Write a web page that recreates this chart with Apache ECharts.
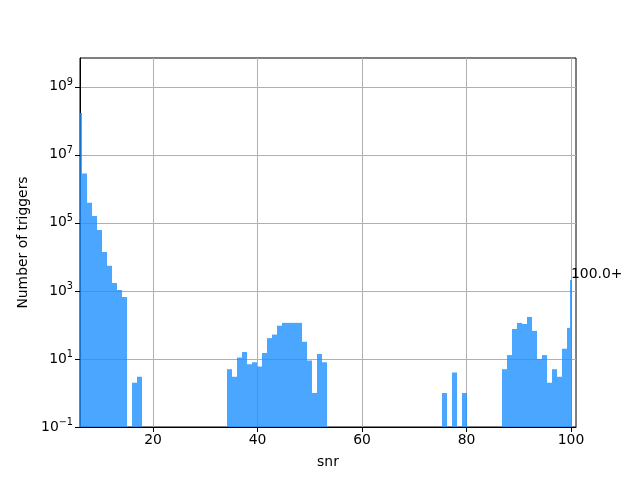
<!DOCTYPE html>
<html>
<head>
<meta charset="utf-8">
<script src="https://cdn.jsdelivr.net/npm/echarts@6/dist/echarts.min.js"></script>
<style>html,body{margin:0;padding:0;background:#fff}#c{width:640px;height:480px}</style>
</head>
<body>
<div id="c"></div>
<script>
// Histogram data
var binStart = 6.35;
var binWidth = 0.957;
var counts = [
  2800000, 390000, 160000, 62000, 14000, 5500, 1700, 1070, 660, 0,
  2, 3, 0, 0, 0, 0, 0, 0, 0, 0,
  0, 0, 0, 0, 0, 0, 0, 0, 0, 5,
  3, 11, 16, 7, 8, 6, 15, 41, 52, 95,
  115, 115, 115, 115, 32, 9, 1, 14, 8, 0,
  0, 0, 0, 0, 0, 0, 0, 0, 0, 0,
  0, 0, 0, 0, 0, 0, 0, 0, 0, 0,
  0, 0, 1, 0, 4, 0, 1, 0, 0, 0,
  0, 0, 0, 0, 5, 13, 76, 115, 107, 172,
  67, 10, 13, 2, 5, 3, 20, 82
];
var firstBin = [6.03, 6.35, 170000000];   // narrow left-most bin
var overflowBin = [99.81, 100.13, 2100]; // "100.0+" overflow bin
var overflowLabel = '100.0+';
var xTicks = [20, 40, 60, 80, 100];
var yTicks = [0.1, 10, 1000, 100000, 10000000, 1000000000];

var xMin = 6.03, xMax = 100.96, yMin = 0.1, yMax = 7e9;

var bars = [firstBin];
for (var i = 0; i < counts.length; i++) {
  var l = binStart + i * binWidth;
  var r = l + binWidth;
  if (i === counts.length - 1) r = overflowBin[0];
  if (counts[i] > 0) bars.push([l, r, counts[i]]);
}
bars.push(overflowBin);

var FONT = 'DejaVu Sans';
var chart = echarts.init(document.getElementById('c'), null, {renderer: 'canvas'});
chart.setOption({
  animation: false,
  backgroundColor: '#fff',
  grid: {left: 80, right: 64, top: 58, bottom: 53, show: true, borderColor: '#000', borderWidth: 1, backgroundColor: 'transparent'},
  xAxis: {
    type: 'value', min: xMin, max: xMax,
    name: 'snr', nameLocation: 'middle', nameGap: 28,
    nameTextStyle: {fontFamily: FONT, fontSize: 13.9, color: '#000'},
    axisLine: {show: true, lineStyle: {color: '#000', width: 1}},
    axisTick: {show: true, length: 5, inside: false, lineStyle: {color: '#000'}, customValues: xTicks},
    axisLabel: {fontFamily: FONT, fontSize: 13.9, color: '#000', margin: 6, customValues: xTicks},
    splitLine: {show: true, lineStyle: {color: '#b0b0b0', width: 1}}
  },
  yAxis: {
    type: 'log', logBase: 10, min: yMin, max: yMax,
    name: 'Number of triggers', nameLocation: 'middle', nameGap: 48,
    nameTextStyle: {fontFamily: FONT, fontSize: 13.9, color: '#000'},
    axisLine: {show: true, lineStyle: {color: '#000', width: 1}},
    axisTick: {show: true, length: 5, lineStyle: {color: '#000'}, customValues: yTicks},
    axisLabel: {
      fontFamily: FONT, fontSize: 13.9, color: '#000', margin: 7, customValues: yTicks,
      formatter: function (v) {
        var e = Math.round(Math.log10(v));
        return '{b|10}{s|' + (e < 0 ? '\u2212' + (-e) : e) + '}';
      },
      rich: {
        b: {fontFamily: FONT, fontSize: 13.9, color: '#000'},
        s: {fontFamily: FONT, fontSize: 9.7, color: '#000', verticalAlign: 'bottom', padding: [0, 0, 9, 0]}
      }
    },
    splitLine: {show: true, lineStyle: {color: '#b0b0b0', width: 1}}
  },
  series: [
    {
      type: 'custom',
      clip: true,
      data: bars,
      encode: {x: [0, 1], y: 2},
      renderItem: function (params, api) {
        var p0 = api.coord([api.value(0), api.value(2)]);
        var p1 = api.coord([api.value(1), yMin]);
        var x0 = Math.round(p0[0]), x1 = Math.round(p1[0]);
        if (x1 <= x0) x1 = x0 + 1;
        return {
          type: 'rect',
          shape: {x: x0, y: p0[1], width: x1 - x0, height: p1[1] - p0[1]},
          style: {fill: 'rgba(30,144,255,0.8)'}
        };
      }
    },
    {
      type: 'custom',
      clip: false,
      data: [[overflowBin[0] + 0.2, overflowBin[2]]],
      renderItem: function (params, api) {
        var p = api.coord([api.value(0), api.value(1)]);
        return {
          type: 'text',
          x: p[0], y: p[1] + 1,
          style: {text: overflowLabel, fontFamily: FONT, fontSize: 13.9, fill: '#000', align: 'left', verticalAlign: 'bottom'}
        };
      }
    }
  ]
});
</script>
</body>
</html>
